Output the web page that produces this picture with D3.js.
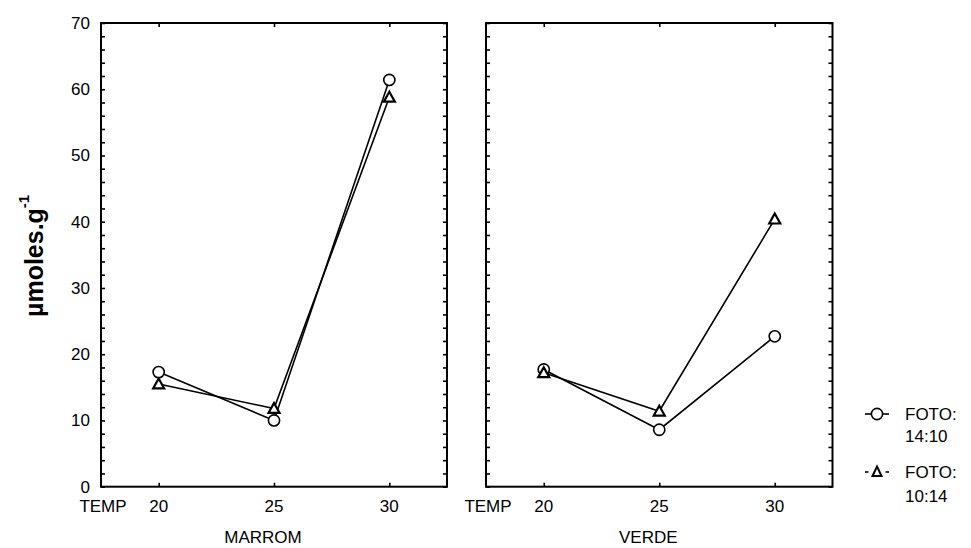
<!DOCTYPE html>
<html>
<head>
<meta charset="utf-8">
<script src="https://cdn.jsdelivr.net/npm/d3@7"></script>
<style>
  body { margin: 0; background: #fff; }
  text { font-family: "Liberation Sans", Arial, sans-serif; fill: #000; }
</style>
</head>
<body>
<svg id="chart" width="971" height="548"></svg>
<script>
const temps = [20, 25, 30];
const panels = ["MARROM", "VERDE"];
const foto1410 = { MARROM: [17.3, 10.0, 61.4], VERDE: [17.7, 8.6, 22.7] };
const foto1014 = { MARROM: [15.5, 11.8, 58.8], VERDE: [17.2, 11.4, 40.4] };
const yTicks = [0, 10, 20, 30, 40, 50, 60, 70];
const yMinor = d3.range(0, 71, 2);
const seriesNames = ["FOTO:\n14:10", "FOTO:\n10:14"];

const svg = d3.select("#chart");
const y = d3.scaleLinear().domain([0, 70]).range([486.7, 23]);
const panelX = [[101, 447], [486, 832.5]];

function drawSymbol(g, type, cx, cy) {
  if (type === 0) {
    g.append("circle").attr("cx", cx).attr("cy", cy).attr("r", 5.6)
      .attr("fill", "#fff").attr("stroke", "#000").attr("stroke-width", 1.6);
  } else {
    const s = 5.5;
    g.append("path")
      .attr("d", `M${cx},${cy - s} L${cx + s},${cy + s * 0.8} L${cx - s},${cy + s * 0.8} Z`)
      .attr("fill", "#fff").attr("stroke", "#000").attr("stroke-width", 2.2)
      .attr("stroke-linejoin", "miter");
  }
}

panels.forEach((name, i) => {
  const [x0, x1] = panelX[i];
  const x = d3.scaleLinear().domain([17.5, 32.5]).range([x0, x1]);
  const g = svg.append("g");

  g.append("rect").attr("x", x0).attr("y", y(70)).attr("width", x1 - x0)
    .attr("height", y(0) - y(70)).attr("fill", "none")
    .attr("stroke", "#000").attr("stroke-width", 2);

  const leftAxis = d3.axisRight(y).tickValues(yMinor).tickSize(4).tickFormat("");
  const la = g.append("g").attr("transform", `translate(${x0},0)`).call(leftAxis);
  const rightAxis = d3.axisLeft(y).tickValues(yMinor).tickSize(4).tickFormat("");
  const ra = g.append("g").attr("transform", `translate(${x1},0)`).call(rightAxis);
  [la, ra].forEach(a => {
    a.select(".domain").remove();
    a.selectAll("line").attr("stroke", "#000").attr("stroke-width", 1.6);
  });

  const bAxis = d3.axisTop(x).tickValues(temps).tickSize(4).tickFormat("");
  const ba = g.append("g").attr("transform", `translate(0,${y(0)})`).call(bAxis);
  const tAxis = d3.axisBottom(x).tickValues(temps).tickSize(4).tickFormat("");
  const ta = g.append("g").attr("transform", `translate(0,${y(70)})`).call(tAxis);
  [ba, ta].forEach(a => {
    a.select(".domain").remove();
    a.selectAll("line").attr("stroke", "#000").attr("stroke-width", 1.6);
  });

  g.selectAll(".xl").data(temps).enter().append("text")
    .attr("x", d => x(d)).attr("y", 512).attr("text-anchor", "middle")
    .attr("font-size", 17).text(d => d);
  g.append("text").attr("x", x0 + 2).attr("y", 512).attr("text-anchor", "middle")
    .attr("font-size", 17).text("TEMP");
  g.append("text").attr("x", (x0 - 22 + x1) / 2).attr("y", 543).attr("text-anchor", "middle")
    .attr("font-size", 17).text(name);

  [foto1410[name], foto1014[name]].forEach((vals) => {
    const line = d3.line().x((d, k) => x(temps[k])).y(d => y(d));
    g.append("path").datum(vals).attr("d", line).attr("fill", "none")
      .attr("stroke", "#000").attr("stroke-width", 1.6);
  });
  [foto1410[name], foto1014[name]].forEach((vals, si) => {
    vals.forEach((v, k) => drawSymbol(g, si, x(temps[k]), y(v)));
  });
});

svg.selectAll(".yl").data(yTicks).enter().append("text")
  .attr("x", 90).attr("y", d => y(d)).attr("dy", "0.35em")
  .attr("text-anchor", "end").attr("font-size", 17).text(d => d);

const yt = svg.append("text")
  .attr("transform", "translate(43,317) rotate(-90)")
  .attr("font-size", 25).attr("font-weight", "bold");
yt.append("tspan").text("µmoles.g");
yt.append("tspan").attr("font-size", 15).attr("dy", -14).text("-1");

const lg = svg.append("g");
lg.append("line").attr("x1", 865).attr("x2", 889).attr("y1", 414).attr("y2", 414)
  .attr("stroke", "#000").attr("stroke-width", 1.6);
drawSymbol(lg, 0, 877, 414);
lg.append("line").attr("x1", 865).attr("x2", 868.5).attr("y1", 472).attr("y2", 472)
  .attr("stroke", "#000").attr("stroke-width", 1.6);
lg.append("line").attr("x1", 885.5).attr("x2", 889).attr("y1", 472).attr("y2", 472)
  .attr("stroke", "#000").attr("stroke-width", 1.6);
lg.append("path").attr("d", "M877,466.5 L881.5,476 L872.5,476 Z")
  .attr("fill", "#fff").attr("stroke", "#000").attr("stroke-width", 2);
const legY = [[420, 442], [478, 502]];
seriesNames.forEach((s, i) => {
  s.split("\n").forEach((t, j) => {
    lg.append("text").attr("x", 905).attr("y", legY[i][j]).attr("font-size", 17).text(t);
  });
});
</script>
</body>
</html>
